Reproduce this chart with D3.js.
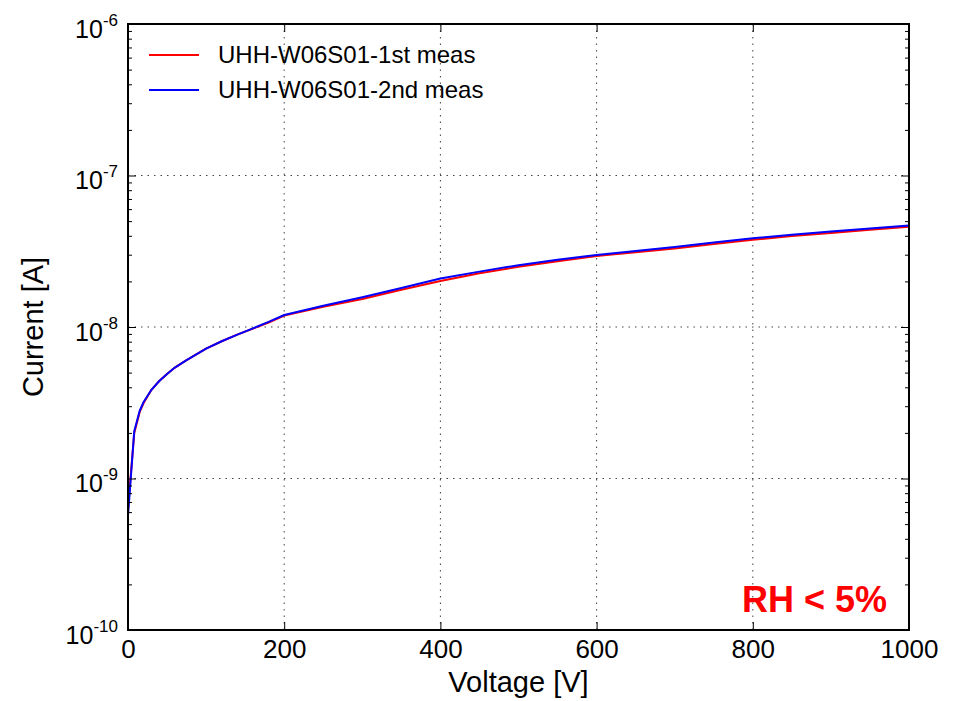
<!DOCTYPE html>
<html>
<head>
<meta charset="utf-8">
<script src="https://cdn.jsdelivr.net/npm/d3@7"></script>
<style>
  body { margin: 0; background: #fff; }
  svg { font-family: "Liberation Sans", Arial, sans-serif; }
</style>
</head>
<body>
<div id="iv_graph"></div>
<script>
// measured voltages [V]
var voltages = [0, 8, 15, 20, 30, 40, 50, 60, 75, 100, 120, 140, 160, 180, 200,
                250, 300, 350, 400, 450, 500, 550, 600, 650, 700, 750, 800, 850, 900, 950, 1000]
// leakage current [A], first measurement
var current1st = [6.3e-10, 2.0e-9, 2.75e-9, 3.15e-9, 3.85e-9, 4.4e-9, 4.9e-9, 5.4e-9, 6.05e-9, 7.2e-9,
                  8.05e-9, 8.9e-9, 9.75e-9, 1.07e-8, 1.19e-8,
                  1.36e-8, 1.53e-8, 1.76e-8, 2.01e-8, 2.26e-8, 2.5e-8, 2.72e-8, 2.94e-8, 3.12e-8,
                  3.3e-8, 3.53e-8, 3.76e-8, 3.98e-8, 4.18e-8, 4.39e-8, 4.59e-8]
// leakage current [A], second measurement
var current2nd = [5.7e-10, 2.05e-9, 2.8e-9, 3.2e-9, 3.85e-9, 4.4e-9, 4.9e-9, 5.4e-9, 6.05e-9, 7.2e-9,
                  8.05e-9, 8.9e-9, 9.8e-9, 1.08e-8, 1.2e-8,
                  1.38e-8, 1.57e-8, 1.81e-8, 2.09e-8, 2.32e-8, 2.56e-8, 2.78e-8, 2.99e-8, 3.18e-8,
                  3.37e-8, 3.61e-8, 3.85e-8, 4.06e-8, 4.27e-8, 4.47e-8, 4.67e-8]

var seriesNames = ["UHH-W06S01-1st meas", "UHH-W06S01-2nd meas"]
var seriesColors = ["#ff0000", "#0000ff"]
var xTicks = [0, 200, 400, 600, 800, 1000]
var yExponents = [-10, -9, -8, -7, -6]

var width = 957
var height = 701
var margin = {top: 24, right: 48, bottom: 71, left: 128}
var plotW = width - margin.left - margin.right
var plotH = height - margin.top - margin.bottom

var svg = d3.select("#iv_graph")
    .append("svg")
    .attr("width", width)
    .attr("height", height)

var container = svg.append("g")
    .attr("transform", "translate(" + margin.left + "," + margin.top + ")")

var xScale = d3.scaleLinear().domain([0, 1000]).range([0, plotW])
var yScale = d3.scaleLog().domain([1e-10, 1e-6]).range([plotH, 0])

var majorY = yExponents.map(e => Math.pow(10, e))
var minorY = []
yExponents.slice(0, -1).forEach(function(e) {
    for (var k = 2; k < 10; k++) minorY.push(k * Math.pow(10, e))
})

// dotted grid
var grid = container.append("g")
grid.selectAll(".vgrid")
    .data(xTicks.slice(1, -1))
    .enter().append("line")
    .attr("x1", d => xScale(d)).attr("x2", d => xScale(d))
    .attr("y1", 0).attr("y2", plotH)
grid.selectAll(".hgrid")
    .data(majorY.slice(1, -1))
    .enter().append("line")
    .attr("x1", 0).attr("x2", plotW)
    .attr("y1", d => yScale(d)).attr("y2", d => yScale(d))
grid.selectAll("line")
    .attr("stroke", "#444")
    .attr("stroke-width", 1)
    .attr("stroke-dasharray", "1.5,5")

// curves
var line = d3.line()
    .x(d => xScale(d[0]))
    .y(d => yScale(d[1]))

;[current1st, current2nd].forEach(function(values, i) {
    container.append("path")
        .datum(voltages.map((v, j) => [v, values[j]]))
        .attr("fill", "none")
        .attr("stroke", seriesColors[i])
        .attr("stroke-width", 2)
        .attr("stroke-linejoin", "round")
        .attr("d", line)
})

// axes with inward ticks
var xAxis = container.append("g")
    .attr("transform", "translate(0," + plotH + ")")
    .call(d3.axisBottom(xScale).tickValues(xTicks).tickFormat(d3.format("d"))
        .tickSizeInner(-8).tickSizeOuter(0).tickPadding(10))
xAxis.selectAll("text").attr("font-size", "26px").attr("fill", "#000")

container.append("g")
    .call(d3.axisTop(xScale).tickValues(xTicks).tickSizeInner(-8).tickSizeOuter(0).tickFormat(""))

var yAxis = container.append("g")
    .call(d3.axisLeft(yScale).tickValues(majorY).tickSizeInner(-8).tickSizeOuter(0).tickPadding(10))
yAxis.selectAll("text").each(function(d) {
    var t = d3.select(this)
    t.text("").attr("dy", null).attr("y", 13).attr("fill", "#000")
    t.append("tspan").attr("font-size", "25px").text("10")
    t.append("tspan").attr("font-size", "17px").attr("dy", -12).text(Math.round(Math.log10(d)))
})

container.append("g")
    .call(d3.axisLeft(yScale).tickValues(minorY).tickSizeInner(-4).tickSizeOuter(0).tickFormat(""))
container.append("g")
    .attr("transform", "translate(" + plotW + ",0)")
    .call(d3.axisRight(yScale).tickValues(majorY).tickSizeInner(-8).tickSizeOuter(0).tickFormat(""))
container.append("g")
    .attr("transform", "translate(" + plotW + ",0)")
    .call(d3.axisRight(yScale).tickValues(minorY).tickSizeInner(-4).tickSizeOuter(0).tickFormat(""))

container.selectAll(".domain").remove()
container.selectAll(".tick line").attr("stroke", "#000").attr("stroke-width", 1)

// frame
container.append("rect")
    .attr("width", plotW).attr("height", plotH)
    .attr("fill", "none")
    .attr("stroke", "#000")
    .attr("stroke-width", 2)

// axis titles
svg.append("text")
    .attr("x", margin.left + plotW / 2).attr("y", 692)
    .attr("text-anchor", "middle")
    .attr("font-size", "29px")
    .text("Voltage [V]")
svg.append("text")
    .attr("transform", "translate(43," + (margin.top + plotH / 2) + ") rotate(-90)")
    .attr("text-anchor", "middle")
    .attr("font-size", "29px")
    .text("Current [A]")

// legend
var legend = container.append("g")
seriesNames.forEach(function(name, i) {
    var y = 31 + i * 35
    legend.append("line")
        .attr("x1", 21).attr("x2", 71)
        .attr("y1", y).attr("y2", y)
        .attr("stroke", seriesColors[i])
        .attr("stroke-width", 2)
    legend.append("text")
        .attr("x", 90).attr("y", y + 8)
        .attr("font-size", "24px")
        .text(name)
})

// humidity note
container.append("text")
    .attr("x", plotW - 22).attr("y", 588)
    .attr("text-anchor", "end")
    .attr("font-size", "36px")
    .attr("font-weight", "bold")
    .attr("fill", "#ff0000")
    .text("RH < 5%")
</script>
</body>
</html>
